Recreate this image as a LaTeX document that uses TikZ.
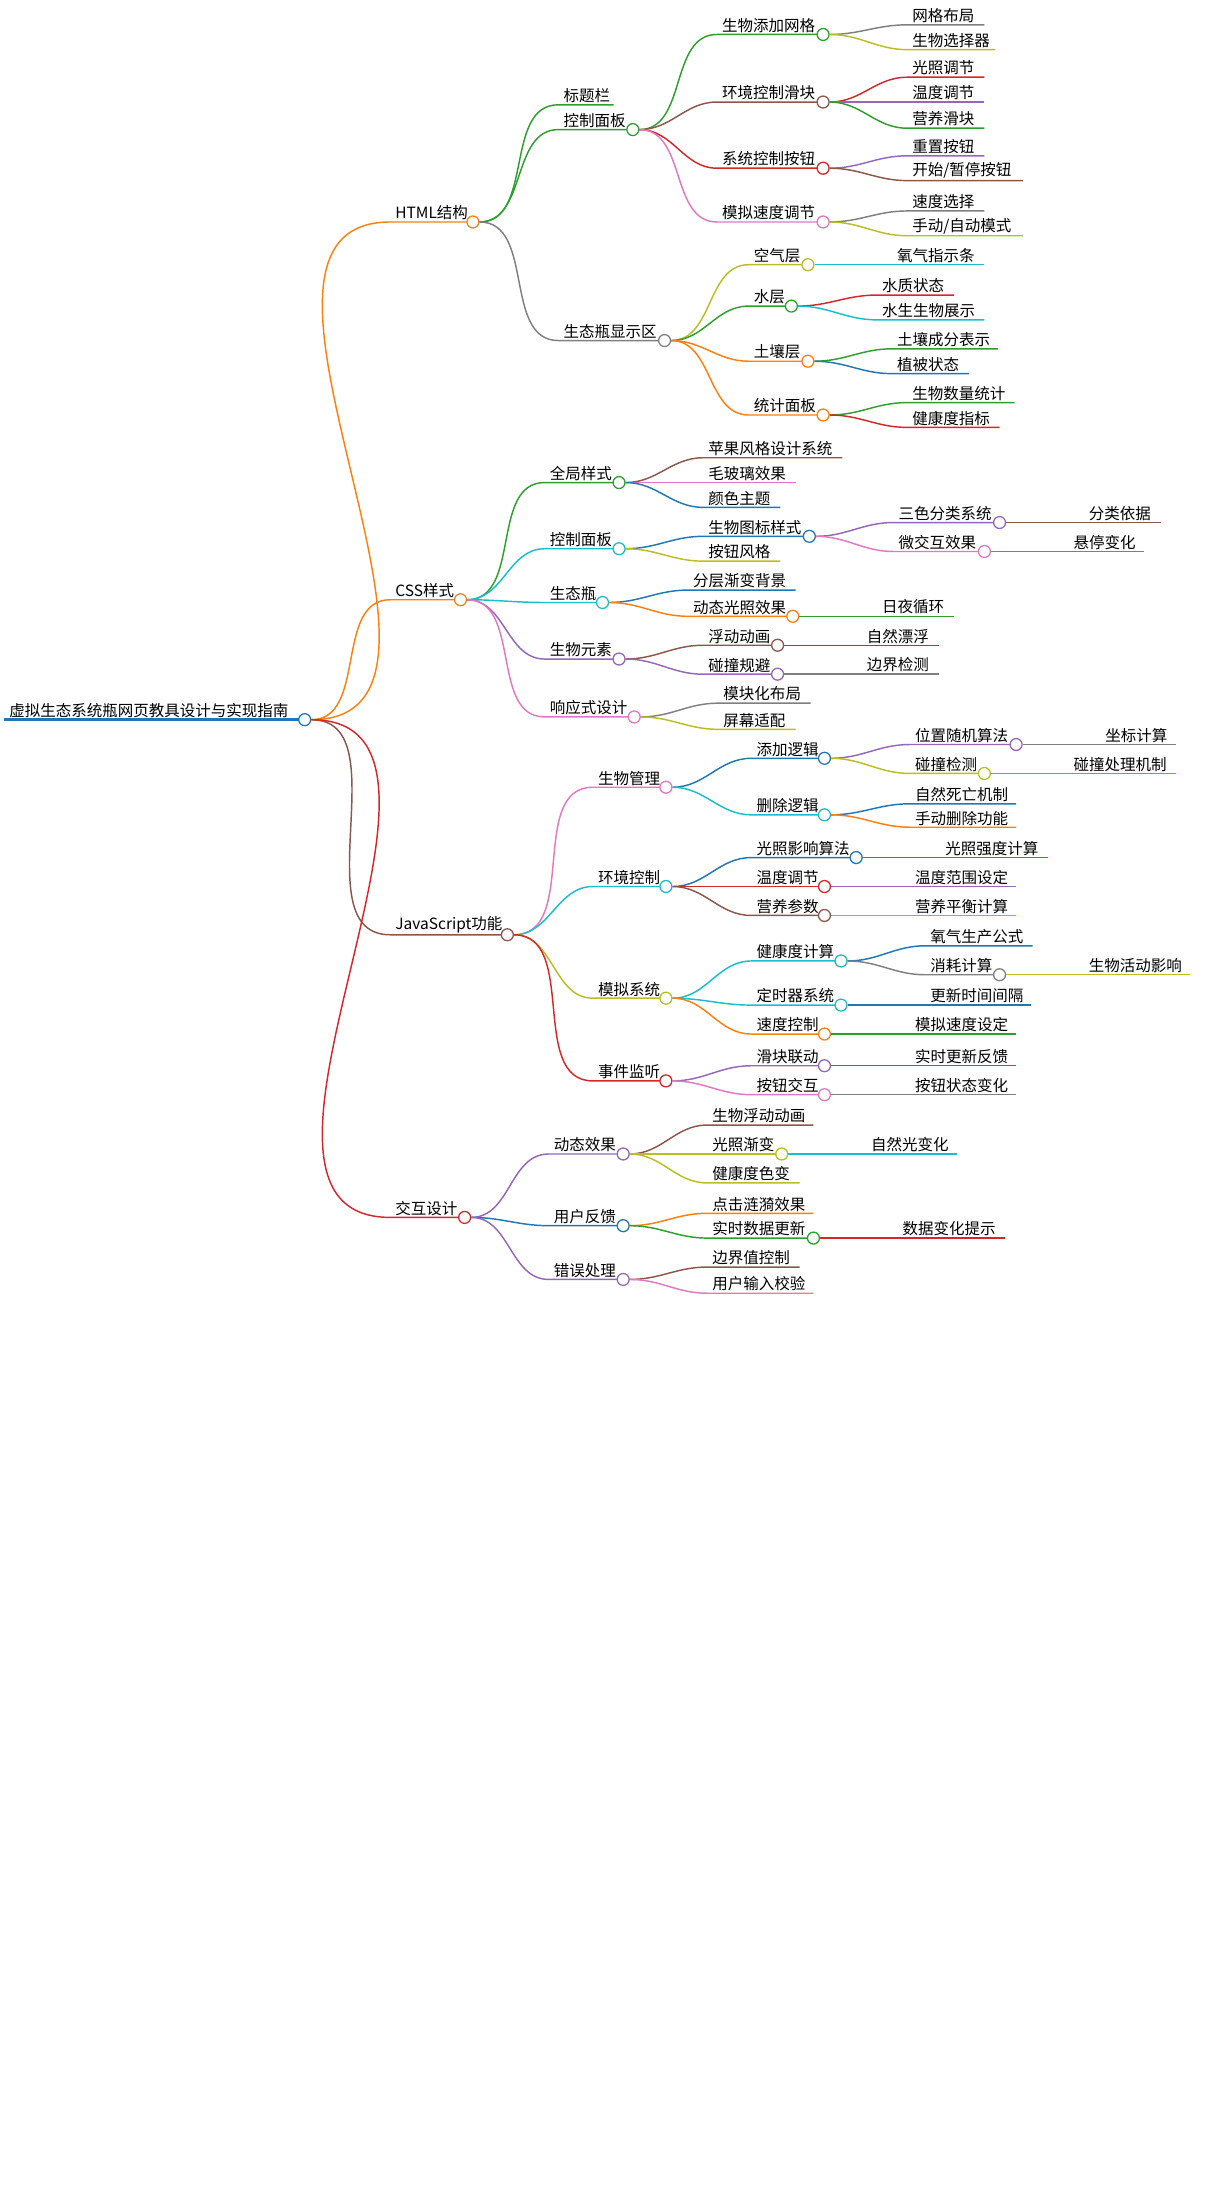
\documentclass[tikz,border=0pt]{standalone}
\usepackage{fontspec}
\newfontfamily\cjk{Noto Sans CJK SC}
\usetikzlibrary{positioning}
\definecolor{mmblue}{HTML}{1F77B4}
\definecolor{mmorange}{HTML}{FF7F0E}
\definecolor{mmgreen}{HTML}{2CA02C}
\definecolor{mmred}{HTML}{D62728}
\definecolor{mmpurple}{HTML}{9467BD}
\definecolor{mmbrown}{HTML}{8C564B}
\definecolor{mmpink}{HTML}{E377C2}
\definecolor{mmgray}{HTML}{7F7F7F}
\definecolor{mmolive}{HTML}{BCBD22}
\definecolor{mmcyan}{HTML}{17BECF}
\tikzset{lbl/.style={anchor=south west,inner sep=1pt,xshift=2pt,font=\cjk\fontsize{9.6}{11}\selectfont},
  dot/.style={circle,fill=white,line width=0.8pt,inner sep=0pt,minimum size=2.6mm},
  edge/.style={line width=0.9pt}}
% #1 parent, #2 name, #3 x start, #4 x end, #5 y, #6 colour, #7 text
\newcommand\leaf[7]{%
  \coordinate (#2-s) at (#3,-#5); \coordinate (#2-e) at (#4,-#5);
  \node[lbl] (#2-t) at (#2-s) {#7};
  \draw[edge,#6] (#1.east) to[out=0,in=180] (#2-s) -- (#2-e);}
\newcommand\hub[7]{\leaf{#1}{#2}{#3}{#4}{#5}{#6}{#7}%
  \node[dot,draw=#6] (#2) at (#2-e) {};}
\begin{document}
\begin{tikzpicture}[x=0.03cm,y=0.03cm]
	\useasboundingbox (0,0) rectangle (880,-1587);
	% root
	\coordinate (root-s) at (3,-522); \coordinate (root-e) at (221,-522);
	\node[lbl] (root-t) at (root-s) {虚拟生态系统瓶网页教具设计与实现指南};
	\draw[mmblue,line width=2pt] (root-s) -- (root-e);
	\node[dot,draw=mmblue] (root) at (root-e) {};

	\hub{root}{html}{283}{343}{161}{mmorange}{HTML结构}
	\hub{root}{css}{283}{334}{435}{mmorange}{CSS样式}
	\hub{root}{js}{283}{368}{678}{mmbrown}{JavaScript功能}
	\hub{root}{ix}{283}{337}{883}{mmred}{交互设计}

	% HTML
	\leaf{html}{title}{405}{445}{76}{mmgreen}{标题栏}
	\hub{html}{panel}{405}{459}{94}{mmgreen}{控制面板}
	\hub{html}{show}{405}{482}{247}{mmgray}{生态瓶显示区}
	\hub{panel}{grid}{520}{597}{25}{mmgreen}{生物添加网格}
	\leaf{grid}{grid1}{658}{714}{18}{mmgray}{网格布局}
	\leaf{grid}{grid2}{658}{722}{36}{mmolive}{生物选择器}
	\hub{panel}{slide}{520}{597}{74}{mmbrown}{环境控制滑块}
	\leaf{slide}{slide1}{658}{714}{56}{mmred}{光照调节}
	\leaf{slide}{slide2}{658}{714}{74}{mmpurple}{温度调节}
	\leaf{slide}{slide3}{658}{714}{93}{mmgreen}{营养滑块}
	\hub{panel}{btn}{520}{597}{122}{mmred}{系统控制按钮}
	\leaf{btn}{btn1}{658}{714}{113}{mmpurple}{重置按钮}
	\leaf{btn}{btn2}{658}{742}{131}{mmbrown}{开始/暂停按钮}
	\hub{panel}{speed}{520}{597}{161}{mmpink}{模拟速度调节}
	\leaf{speed}{speed1}{658}{714}{153}{mmgray}{速度选择}
	\leaf{speed}{speed2}{658}{742}{171}{mmolive}{手动/自动模式}
	\hub{show}{air}{543}{586}{192}{mmolive}{空气层}
	\leaf{air}{air1}{647}{714}{192}{mmcyan}{氧气指示条}
	\hub{show}{water}{543}{574}{222}{mmgreen}{水层}
	\leaf{water}{water1}{636}{692}{214}{mmred}{水质状态}
	\leaf{water}{water2}{636}{714}{232}{mmcyan}{水生生物展示}
	\hub{show}{soil}{543}{586}{262}{mmorange}{土壤层}
	\leaf{soil}{soil1}{647}{724}{253}{mmgreen}{土壤成分表示}
	\leaf{soil}{soil2}{647}{703}{271}{mmblue}{植被状态}
	\hub{show}{stat}{543}{597}{301}{mmorange}{统计面板}
	\leaf{stat}{stat1}{658}{736}{292}{mmgreen}{生物数量统计}
	\leaf{stat}{stat2}{658}{725}{310}{mmred}{健康度指标}

	% CSS
	\hub{css}{glob}{395}{449}{350}{mmgreen}{全局样式}
	\leaf{glob}{glob1}{510}{611}{332}{mmbrown}{苹果风格设计系统}
	\leaf{glob}{glob2}{510}{577}{350}{mmpink}{毛玻璃效果}
	\leaf{glob}{glob3}{510}{566}{368}{mmblue}{颜色主题}
	\hub{css}{cpanel}{395}{449}{398}{mmcyan}{控制面板}
	\hub{cpanel}{icon}{510}{587}{389}{mmblue}{生物图标样式}
	\hub{icon}{tri}{648}{725}{379}{mmpurple}{三色分类系统}
	\leaf{tri}{tri1}{786}{842}{379}{mmbrown}{分类依据}
	\hub{icon}{micro}{648}{714}{400}{mmpink}{微交互效果}
	\leaf{micro}{micro1}{775}{830}{400}{mmgray}{悬停变化}
	\leaf{cpanel}{bstyle}{510}{566}{407}{mmolive}{按钮风格}
	\hub{css}{bottle}{395}{437}{437}{mmcyan}{生态瓶}
	\leaf{bottle}{bottle1}{499}{577}{428}{mmblue}{分层渐变背景}
	\hub{bottle}{light}{499}{575}{447}{mmorange}{动态光照效果}
	\leaf{light}{light1}{636}{692}{447}{mmgreen}{日夜循环}
	\hub{css}{elem}{395}{449}{478}{mmpurple}{生物元素}
	\hub{elem}{float}{510}{564}{468}{mmbrown}{浮动动画}
	\leaf{float}{float1}{625}{681}{468}{mmred}{自然漂浮}
	\hub{elem}{avoid}{510}{564}{489}{mmpurple}{碰撞规避}
	\leaf{avoid}{avoid1}{625}{681}{489}{mmgray}{边界检测}
	\hub{css}{resp}{395}{460}{520}{mmpink}{响应式设计}
	\leaf{resp}{resp1}{521}{588}{510}{mmgray}{模块化布局}
	\leaf{resp}{resp2}{521}{577}{529}{mmolive}{屏幕适配}

	% JavaScript
	\hub{js}{bio}{430}{483}{571}{mmpink}{生物管理}
	\hub{bio}{add}{545}{598}{550}{mmblue}{添加逻辑}
	\hub{add}{rand}{660}{737}{540}{mmpurple}{位置随机算法}
	\leaf{rand}{rand1}{798}{853}{540}{mmgray}{坐标计算}
	\hub{add}{coll}{660}{714}{561}{mmolive}{碰撞检测}
	\leaf{coll}{coll1}{775}{853}{561}{mmcyan}{碰撞处理机制}
	\hub{bio}{del}{545}{598}{591}{mmcyan}{删除逻辑}
	\leaf{del}{del1}{660}{737}{583}{mmblue}{自然死亡机制}
	\leaf{del}{del2}{660}{737}{600}{mmorange}{手动删除功能}
	\hub{js}{env}{430}{483}{643}{mmcyan}{环境控制}
	\hub{env}{lalg}{545}{621}{622}{mmblue}{光照影响算法}
	\leaf{lalg}{lalg1}{682}{760}{622}{mmgreen}{光照强度计算}
	\hub{env}{temp}{545}{598}{643}{mmred}{温度调节}
	\leaf{temp}{temp1}{660}{737}{643}{mmpurple}{温度范围设定}
	\hub{env}{nutr}{545}{598}{664}{mmbrown}{营养参数}
	\leaf{nutr}{nutr1}{660}{737}{664}{mmpink}{营养平衡计算}
	\hub{js}{sim}{430}{483}{724}{mmolive}{模拟系统}
	\hub{sim}{health}{545}{610}{697}{mmcyan}{健康度计算}
	\leaf{health}{health1}{671}{749}{686}{mmblue}{氧气生产公式}
	\hub{health}{cons}{671}{725}{707}{mmgray}{消耗计算}
	\leaf{cons}{cons1}{786}{863}{707}{mmolive}{生物活动影响}
	\hub{sim}{timer}{545}{610}{729}{mmcyan}{定时器系统}
	\leaf{timer}{timer1}{671}{748}{729}{mmblue}{更新时间间隔}
	\hub{sim}{spd}{545}{598}{750}{mmorange}{速度控制}
	\leaf{spd}{spd1}{660}{737}{750}{mmgreen}{模拟速度设定}
	\hub{js}{evt}{430}{483}{784}{mmred}{事件监听}
	\hub{evt}{link}{545}{598}{773}{mmpurple}{滑块联动}
	\leaf{link}{link1}{660}{737}{773}{mmbrown}{实时更新反馈}
	\hub{evt}{press}{545}{598}{794}{mmpink}{按钮交互}
	\leaf{press}{press1}{660}{737}{794}{mmgray}{按钮状态变化}

	% 交互设计
	\hub{ix}{dyn}{398}{452}{837}{mmpurple}{动态效果}
	\leaf{dyn}{dyn1}{513}{590}{816}{mmbrown}{生物浮动动画}
	\hub{dyn}{grad}{513}{567}{837}{mmolive}{光照渐变}
	\leaf{grad}{grad1}{628}{694}{837}{mmcyan}{自然光变化}
	\leaf{dyn}{dyn3}{513}{580}{858}{mmolive}{健康度色变}
	\hub{ix}{fb}{398}{452}{889}{mmblue}{用户反馈}
	\leaf{fb}{fb1}{513}{590}{880}{mmorange}{点击涟漪效果}
	\hub{fb}{live}{513}{590}{898}{mmgreen}{实时数据更新}
	\leaf{live}{live1}{651}{729}{898}{mmred}{数据变化提示}
	\hub{ix}{err}{398}{452}{928}{mmpurple}{错误处理}
	\leaf{err}{err1}{513}{580}{919}{mmbrown}{边界值控制}
	\leaf{err}{err2}{513}{590}{938}{mmpink}{用户输入校验}
\end{tikzpicture}
\end{document}
